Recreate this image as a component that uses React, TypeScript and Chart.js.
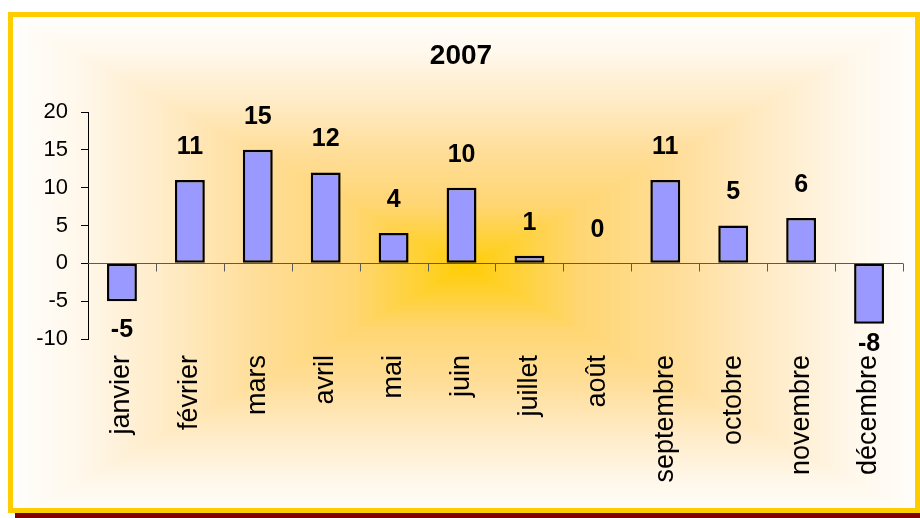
import React, { useEffect, useRef } from "react";
import { Chart, registerables } from "chart.js";

Chart.register(...registerables);

const chartTitle = "2007";
const months = [
  "janvier",
  "février",
  "mars",
  "avril",
  "mai",
  "juin",
  "juillet",
  "août",
  "septembre",
  "octobre",
  "novembre",
  "décembre",
];
const values = [-5, 11, 15, 12, 4, 10, 1, 0, 11, 5, 6, -8];
const yTicks = [-10, -5, 0, 5, 10, 15, 20];

const FONT = "'Liberation Sans', Arial, sans-serif";

const stops: [number, number[]][] = [
  [0, [255, 205, 5]],
  [0.1, [255, 209, 50]],
  [0.25, [255, 214, 115]],
  [0.45, [255, 221, 150]],
  [0.65, [255, 234, 195]],
  [0.85, [255, 247, 234]],
  [1, [255, 254, 252]],
];

function colorAt(t: number): number[] {
  if (t <= 0) return stops[0][1];
  for (let i = 1; i < stops.length; i++) {
    if (t <= stops[i][0]) {
      const [t0, c0] = stops[i - 1];
      const [t1, c1] = stops[i];
      const f = (t - t0) / (t1 - t0);
      return [0, 1, 2].map((k) => c0[k] + (c1[k] - c0[k]) * f);
    }
  }
  return stops[stops.length - 1][1];
}

let gradCache: HTMLCanvasElement | null = null;
function getGradient(w: number, h: number, cx: number, cy: number) {
  if (gradCache) return gradCache;
  const c = document.createElement("canvas");
  c.width = w;
  c.height = h;
  const g = c.getContext("2d")!;
  const img = g.createImageData(w, h);
  const hw = Math.max(cx, w - cx);
  const hh = Math.max(cy, h - cy);
  for (let y = 0; y < h; y++) {
    for (let x = 0; x < w; x++) {
      const t = Math.min(1, Math.max(Math.abs(x - cx) / hw, Math.abs(y - cy) / hh));
      const col = colorAt(t);
      const i = (y * w + x) * 4;
      img.data[i] = col[0];
      img.data[i + 1] = col[1];
      img.data[i + 2] = col[2];
      img.data[i + 3] = 255;
    }
  }
  g.putImageData(img, 0, 0);
  gradCache = c;
  return c;
}

const framePlugin = {
  id: "frame",
  beforeDraw(chart: any) {
    const ctx = chart.ctx;
    ctx.save();
    ctx.fillStyle = "#ffffff";
    ctx.fillRect(0, 0, chart.width, chart.height);
    ctx.fillStyle = "#800000";
    ctx.fillRect(15, 17, 912, 501);
    ctx.fillStyle = "#FFCC00";
    ctx.fillRect(8, 12, 912, 501);
    const grad = getGradient(902, 491, 453, 250);
    ctx.drawImage(grad, 13, 17);
    ctx.restore();
  },
};

const zeroAxisPlugin = {
  id: "zeroAxis",
  beforeDatasetsDraw(chart: any) {
    const { ctx, chartArea, scales } = chart;
    const x = scales.x;
    const y = scales.y;
    const y0 = Math.round(y.getPixelForValue(0)) + 0.5;
    const step = x.getPixelForValue(1) - x.getPixelForValue(0);
    ctx.save();
    ctx.strokeStyle = "#5a5a5a";
    ctx.lineWidth = 1;
    ctx.beginPath();
    ctx.moveTo(chartArea.left, y0);
    ctx.lineTo(chartArea.right, y0);
    for (let i = 0; i < months.length; i++) {
      const px = Math.round(x.getPixelForValue(i) + step / 2) + 0.5;
      ctx.moveTo(px, y0);
      ctx.lineTo(px, y0 + 8);
    }
    ctx.stroke();
    ctx.restore();
  },
};

const dataLabelPlugin = {
  id: "dataLabels",
  afterDatasetsDraw(chart: any) {
    const { ctx, chartArea } = chart;
    const meta = chart.getDatasetMeta(0);
    ctx.save();
    ctx.fillStyle = "#000";
    ctx.font = `bold 25px ${FONT}`;
    ctx.textAlign = "center";
    ctx.textBaseline = "middle";
    meta.data.forEach((bar: any, i: number) => {
      const v = values[i];
      let ly: number;
      if (v >= 0) ly = bar.y - 33;
      else ly = Math.min(bar.y + 29, chartArea.bottom + 5);
      ctx.fillText(String(v), bar.x, ly);
    });
    ctx.restore();
  },
};

const titlePlugin = {
  id: "customTitle",
  afterDraw(chart: any) {
    const ctx = chart.ctx;
    ctx.save();
    ctx.fillStyle = "#000";
    ctx.font = `bold 28px ${FONT}`;
    ctx.textAlign = "center";
    ctx.textBaseline = "middle";
    ctx.fillText(chartTitle, 461, 56);
    ctx.restore();
  },
};

export default function App() {
  const ref = useRef<HTMLCanvasElement>(null);

  useEffect(() => {
    document.body.style.margin = "0";
    const canvas = ref.current;
    if (!canvas) return;
    const chart = new Chart(canvas, {
      type: "bar",
      data: {
        labels: months,
        datasets: [
          {
            data: values,
            backgroundColor: "#9999FF",
            borderColor: "#000000",
            borderWidth: (c: any) => (c.raw === 0 ? 0 : 2.5),
            borderSkipped: false,
            barPercentage: 0.44,
            categoryPercentage: 1,
          },
        ],
      },
      options: {
        responsive: false,
        animation: false,
        devicePixelRatio: 1,
        layout: { padding: { top: 112, right: 17, left: 0, bottom: 0 } },
        plugins: {
          legend: { display: false },
          tooltip: { enabled: false },
          title: { display: false },
        },
        scales: {
          x: {
            grid: { display: false, drawTicks: false },
            border: { display: false },
            ticks: {
              color: "#000",
              font: { family: FONT, size: 27 },
              minRotation: 90,
              maxRotation: 90,
              padding: 16,
              autoSkip: false,
            },
            afterFit(s: any) {
              s.height = 179;
            },
          },
          y: {
            min: yTicks[0],
            max: yTicks[yTicks.length - 1],
            ticks: {
              stepSize: 5,
              color: "#000",
              font: { family: FONT, size: 22 },
              padding: 13,
            },
            grid: { drawOnChartArea: false, tickLength: 7, color: "#000" },
            border: { color: "#000", width: 1 },
            afterFit(s: any) {
              s.width = 88;
            },
          },
        },
      } as any,
      plugins: [framePlugin, zeroAxisPlugin, dataLabelPlugin, titlePlugin],
    });
    return () => chart.destroy();
  }, []);

  return (
    <div style={{ width: 920, height: 518 }}>
      <canvas ref={ref} width={920} height={518} />
    </div>
  );
}
